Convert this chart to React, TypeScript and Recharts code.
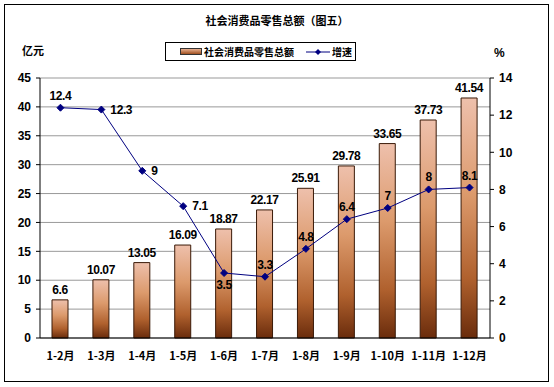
import React from 'react';
import {
  ComposedChart,
  Bar,
  Line,
  XAxis,
  YAxis,
  CartesianGrid,
  LabelList,
} from 'recharts';

const months = ['1-2月', '1-3月', '1-4月', '1-5月', '1-6月', '1-7月', '1-8月', '1-9月', '1-10月', '1-11月', '1-12月'];
const retailTotal = [6.6, 10.07, 13.05, 16.09, 18.87, 22.17, 25.91, 29.78, 33.65, 37.73, 41.54];
const growthRate = [12.4, 12.3, 9, 7.1, 3.5, 3.3, 4.8, 6.4, 7, 8, 8.1];
const leftTicks = [0, 5, 10, 15, 20, 25, 30, 35, 40, 45];
const rightTicks = [0, 2, 4, 6, 8, 10, 12, 14];

const data = months.map((m, i) => ({
  month: m,
  total: retailTotal[i],
  rate: growthRate[i],
}));

const numFont = '"Liberation Sans", Arial, sans-serif';
const cjkFont = '"Noto Sans CJK SC", sans-serif';
const navy = '#000080';

// where the growth label sits relative to its point
const ratePlacement = ['top', 'right', 'right', 'right', 'bottom', 'top', 'top', 'top', 'top', 'top', 'top'];

function Diamond(props: any) {
  const { cx, cy } = props;
  if (cx == null || cy == null) return null;
  const s = 3.5;
  return (
    <path
      d={`M${cx},${cy - s} L${cx + s},${cy} L${cx},${cy + s} L${cx - s},${cy} Z`}
      fill={navy}
      stroke={navy}
    />
  );
}

function RateLabel(props: any) {
  const { x, y, value, index } = props;
  const place = ratePlacement[index] || 'top';
  let tx = x;
  let ty = y - 8;
  let anchor: 'middle' | 'start' = 'middle';
  if (place === 'right') {
    tx = x + 9;
    ty = y + 4;
    anchor = 'start';
  } else if (place === 'bottom') {
    ty = y + 16;
  }
  return (
    <text
      x={tx}
      y={ty}
      textAnchor={anchor}
      fontFamily={numFont}
      fontWeight="bold"
      fontSize={12}
      letterSpacing={-0.4}
      fill="#000"
    >
      {value}
    </text>
  );
}

export default function App() {
  const tickStyle = { fontFamily: numFont, fontWeight: 'bold', fontSize: 12, fill: '#000' } as any;
  return (
    <div style={{ position: 'absolute', left: 0, top: 0, width: 554, height: 387, background: '#fff' }}>
      <div
        style={{
          position: 'absolute',
          left: 4,
          top: 4,
          width: 543,
          height: 376,
          border: '1px solid #000',
        }}
      />
      <div
        style={{
          position: 'absolute',
          left: 0,
          top: 12,
          width: 554,
          textAlign: 'center',
          fontFamily: cjkFont,
          fontWeight: 'bold',
          fontSize: 11,
        }}
      >
        社会消费品零售总额（图五）
      </div>
      <div style={{ position: 'absolute', left: 22, top: 42, fontFamily: cjkFont, fontWeight: 'bold', fontSize: 11 }}>
        亿元
      </div>
      <div style={{ position: 'absolute', left: 494, top: 46, fontFamily: numFont, fontWeight: 'bold', fontSize: 12 }}>
        %
      </div>
      <div
        style={{
          position: 'absolute',
          left: 165,
          top: 42,
          width: 191,
          height: 19,
          border: '1px solid #000',
          display: 'flex',
          alignItems: 'center',
          fontFamily: cjkFont,
          fontWeight: 'bold',
          fontSize: 10,
          boxSizing: 'border-box',
        }}
      >
        <span
          style={{
            display: 'inline-block',
            width: 20,
            height: 5,
            marginLeft: 14,
            marginRight: 2,
            border: '1px solid #333',
            background: 'linear-gradient(#e8b090, #a05020)',
          }}
        />
        <span>社会消费品零售总额</span>
        <svg width={24} height={8} style={{ marginLeft: 12, marginRight: 2 }}>
          <line x1={0} y1={4} x2={24} y2={4} stroke={navy} strokeWidth={1} />
          <path d="M12,1 L15,4 L12,7 L9,4 Z" fill={navy} />
        </svg>
        <span>增速</span>
      </div>
      <div style={{ position: 'absolute', left: 0, top: 0 }}>
        <ComposedChart
          width={554}
          height={387}
          data={data}
          margin={{ top: 78, right: 24, bottom: 19, left: 0 }}
        >
          <defs>
            <linearGradient id="barFill" x1="0" y1="0" x2="0" y2="1">
              <stop offset="0%" stopColor="#eec0ac" />
              <stop offset="40%" stopColor="#dc9a6c" />
              <stop offset="75%" stopColor="#b0612e" />
              <stop offset="100%" stopColor="#6a2c0c" />
            </linearGradient>
          </defs>
          <CartesianGrid yAxisId="left" vertical={false} stroke="#999" />
          <XAxis
            dataKey="month"
            tick={{ ...tickStyle, fontFamily: cjkFont, fontSize: 11 }}
            tickLine={false}
            axisLine={{ stroke: '#000' }}
            tickMargin={8}
            height={30}
            interval={0}
          />
          <YAxis
            yAxisId="left"
            domain={[0, 45]}
            ticks={leftTicks}
            width={40}
            tick={tickStyle}
            tickMargin={5}
            axisLine={{ stroke: '#000' }}
            tickLine={{ stroke: '#000' }}
            tickSize={4}
          />
          <YAxis
            yAxisId="right"
            orientation="right"
            domain={[0, 14]}
            ticks={rightTicks}
            width={40}
            tick={tickStyle}
            tickMargin={5}
            axisLine={{ stroke: '#000' }}
            tickLine={{ stroke: '#000' }}
            tickSize={4}
          />
          <Bar
            yAxisId="left"
            dataKey="total"
            barSize={16}
            fill="url(#barFill)"
            stroke="#3a1a08"
            strokeWidth={1}
            isAnimationActive={false}
          >
            <LabelList
              dataKey="total"
              position="top"
              offset={6}
              style={{ fontFamily: numFont, fontWeight: 'bold', fontSize: 12, letterSpacing: -0.4, fill: '#000' }}
            />
          </Bar>
          <Line
            yAxisId="right"
            dataKey="rate"
            stroke={navy}
            strokeWidth={1}
            dot={<Diamond />}
            activeDot={false}
            isAnimationActive={false}
          >
            <LabelList dataKey="rate" content={<RateLabel />} />
          </Line>
        </ComposedChart>
      </div>
    </div>
  );
}
